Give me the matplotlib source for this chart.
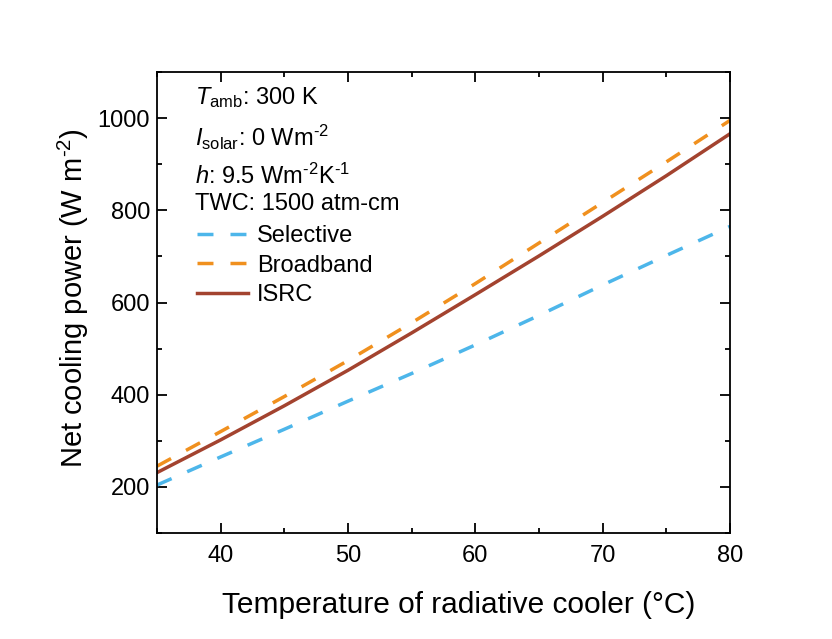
import matplotlib
matplotlib.use("Agg")
import matplotlib.pyplot as plt
from matplotlib.ticker import MultipleLocator

plt.rcParams['font.family'] = ['Liberation Sans', 'DejaVu Sans']
plt.rcParams['mathtext.fontset'] = 'custom'
plt.rcParams['mathtext.rm'] = 'Liberation Sans'
plt.rcParams['mathtext.it'] = 'Liberation Sans:italic'
plt.rcParams['mathtext.default'] = 'regular'

temperature = [35, 40, 45, 50, 55, 60, 65, 70, 75, 80]
selective = [204, 265, 325, 386, 446, 508, 572, 638, 702, 765]
broadband = [245, 320, 396, 474, 556, 641, 729, 817, 905, 995]
isrc = [231, 302, 376, 453, 534, 617, 701, 787, 875, 966]

HY = '\u2010'
series_names = ['Selective', 'Broadband', 'ISRC']
info_lines = ['$\\mathit{T}_{\\rm amb}$: 300 K',
              '$\\mathit{I}_{\\rm solar}$: 0 Wm$^{' + HY + '2}$',
              '$\\mathit{h}$: 9.5 Wm$^{' + HY + '2}$K$^{' + HY + '1}$',
              'TWC: 1500 atm-cm']

W, H = 832, 639
fig = plt.figure(figsize=(W / 100, H / 100), dpi=100)
ax = fig.add_axes([157 / W, 1 - 533 / H, (730 - 157) / W, (533 - 72) / H])

lw = 2.5
dash = (0, (4.6, 4.9))
ax.plot(temperature, selective, color='#4DB6EA', lw=lw, ls=dash, label=series_names[0])
ax.plot(temperature, broadband, color='#F0901E', lw=lw, ls=dash, label=series_names[1])
ax.plot(temperature, isrc, color='#A3432F', lw=lw, ls='-', label=series_names[2])

ax.set_xlim(35, 80)
ax.set_ylim(100, 1100)
ax.xaxis.set_major_locator(MultipleLocator(10))
ax.xaxis.set_minor_locator(MultipleLocator(5))
ax.yaxis.set_major_locator(MultipleLocator(200))
ax.yaxis.set_minor_locator(MultipleLocator(100))
ax.tick_params(which='both', direction='in', top=True, right=True, width=1.3, labelsize=17)
ax.tick_params(axis='x', pad=9)
ax.tick_params(axis='y', pad=5)
ax.tick_params(which='major', length=7)
ax.tick_params(which='minor', length=3.5)
for s in ax.spines.values():
    s.set_linewidth(1.3)

ax.set_xlabel('Temperature of radiative cooler (°C)', fontsize=21.5, labelpad=13)
ax.xaxis.set_label_coords((459 - 157) / (730 - 157), -0.125)
ax.set_ylabel('Net cooling power (W m$^{' + HY + '2}$)', fontsize=21, labelpad=9)
ax.yaxis.set_label_coords(-(157 - 91) / (730 - 157), (533 - 298) / (533 - 72))

ys = [98, 137, 176, 204]
for txt, y in zip(info_lines, ys):
    fig.text(195 / W, 1 - y / H, txt, fontsize=17, va='center', ha='left')

leg = ax.legend(loc='upper left', bbox_to_anchor=(197 / W, 1 - 225 / H),
                bbox_transform=fig.transFigure, frameon=False, fontsize=17,
                handlelength=2.17, handletextpad=0.38, labelspacing=0.32,
                borderpad=0.0, borderaxespad=0)

fig.savefig('out.png', dpi=100, facecolor='white')
